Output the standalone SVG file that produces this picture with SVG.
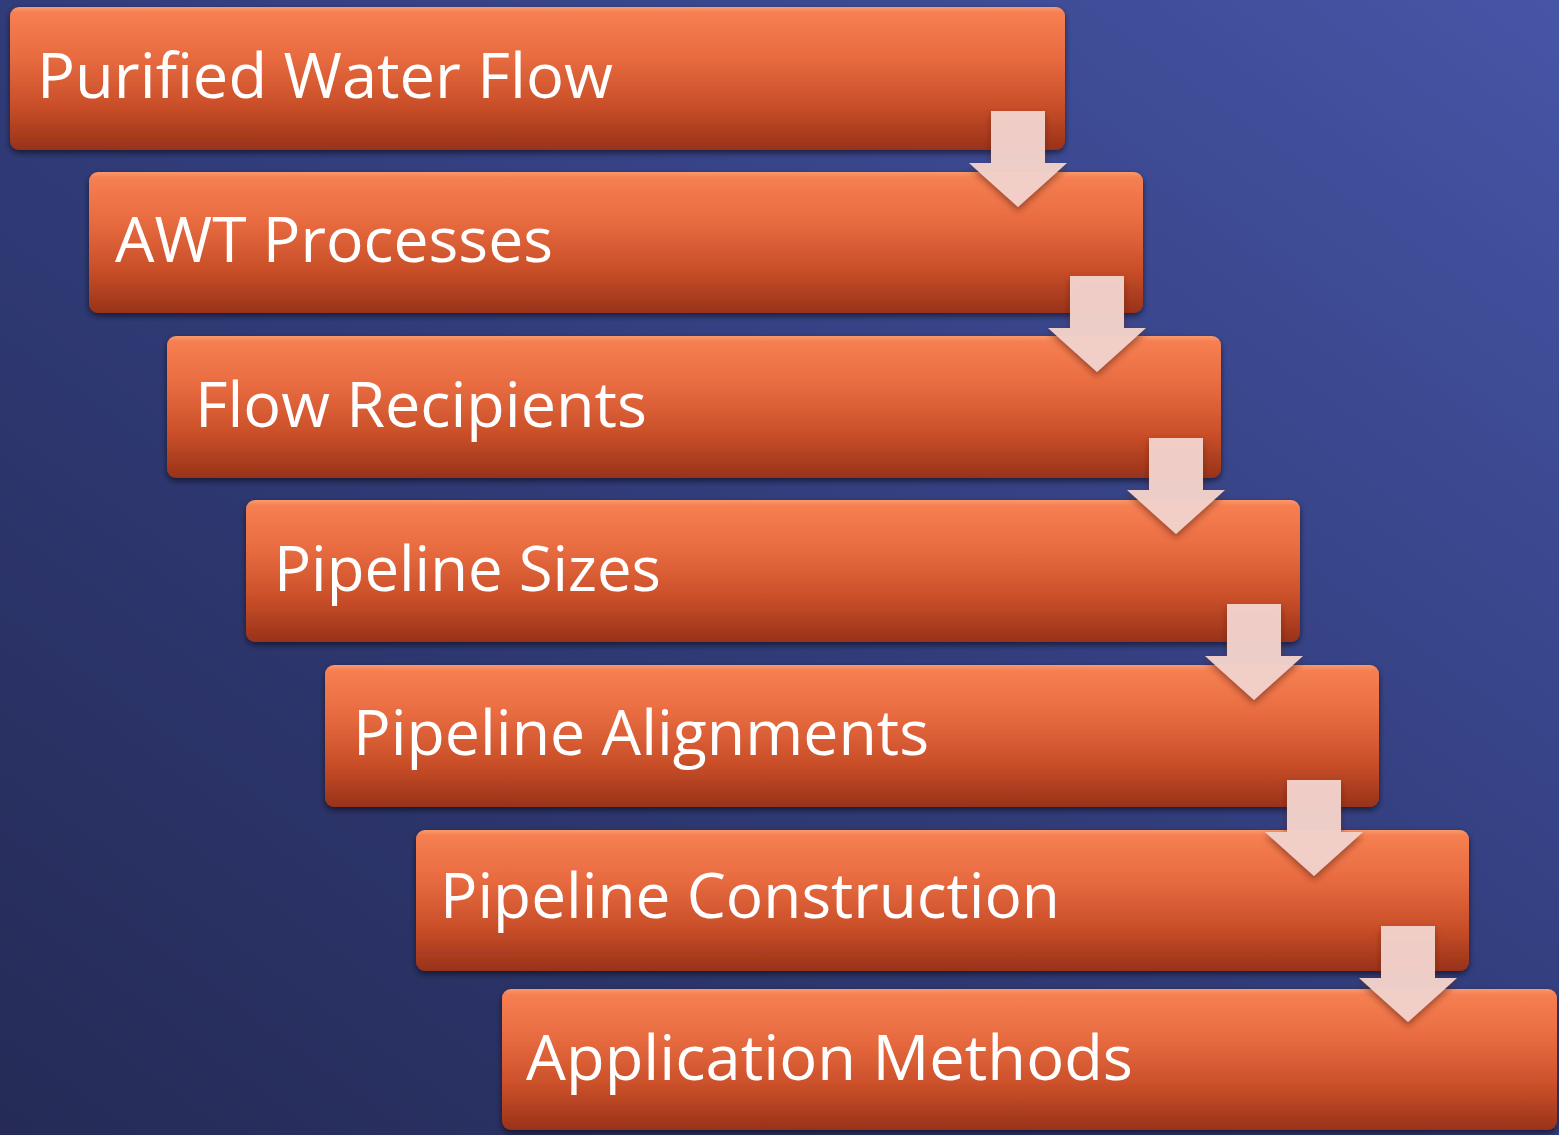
<svg xmlns="http://www.w3.org/2000/svg" width="1559" height="1135" viewBox="0 0 1559 1135">
<defs>
<linearGradient id="bg" x1="0" y1="1" x2="1" y2="0">
<stop offset="0" stop-color="#252b56"/>
<stop offset="0.5" stop-color="#313c7a"/>
<stop offset="1" stop-color="#4655a6"/>
</linearGradient>
<linearGradient id="box" x1="0" y1="0" x2="0" y2="1">
<stop offset="0" stop-color="#f99a6a"/>
<stop offset="0.04" stop-color="#f67f52"/>
<stop offset="0.35" stop-color="#e86b40"/>
<stop offset="0.7" stop-color="#c84e28"/>
<stop offset="1" stop-color="#98321a"/>
</linearGradient>
<filter id="sh" x="-5%" y="-10%" width="110%" height="130%">
<feDropShadow dx="0" dy="3" stdDeviation="3" flood-color="#000" flood-opacity="0.55"/>
</filter>
<filter id="ash" x="-20%" y="-20%" width="140%" height="140%">
<feDropShadow dx="0" dy="4" stdDeviation="3" flood-color="#5a1a08" flood-opacity="0.55"/>
</filter>
<polygon id="arrow" points="-27,0 27,0 27,52 49,52 0,96 -49,52 -27,52"/>
</defs>
<style>
.box{fill:url(#box);filter:url(#sh);}
.lbl{font-family:"Open Sans","Liberation Sans",sans-serif;font-size:62px;fill:#ffffff;}
.arr{fill:#f2d2cb;fill-opacity:0.96;filter:url(#ash);}
</style>
<rect x="0" y="0" width="1559" height="1135" fill="url(#bg)"/>
<g id="node1"><rect class="box" x="10" y="7" width="1055" height="143" rx="9"/><text class="lbl" x="37" y="98" textLength="576" lengthAdjust="spacingAndGlyphs">Purified Water Flow</text></g>
<g id="node2"><rect class="box" x="89" y="172" width="1054" height="141" rx="9"/><text class="lbl" x="115" y="262" textLength="438" lengthAdjust="spacingAndGlyphs">AWT Processes</text></g>
<g id="node3"><rect class="box" x="167" y="336" width="1054" height="142" rx="9"/><text class="lbl" x="195" y="427" textLength="452" lengthAdjust="spacingAndGlyphs">Flow Recipients</text></g>
<g id="node4"><rect class="box" x="246" y="500" width="1054" height="142" rx="9"/><text class="lbl" x="274" y="591" textLength="387" lengthAdjust="spacingAndGlyphs">Pipeline Sizes</text></g>
<g id="node5"><rect class="box" x="325" y="665" width="1054" height="142" rx="9"/><text class="lbl" x="353" y="755" textLength="576" lengthAdjust="spacingAndGlyphs">Pipeline Alignments</text></g>
<g id="node6"><rect class="box" x="416" y="830" width="1053" height="141" rx="9"/><text class="lbl" x="440" y="918" textLength="620" lengthAdjust="spacingAndGlyphs">Pipeline Construction</text></g>
<g id="node7"><rect class="box" x="502" y="989" width="1055" height="141" rx="9"/><text class="lbl" x="526" y="1080" textLength="607" lengthAdjust="spacingAndGlyphs">Application Methods</text></g>
<g id="connectors">
<use href="#arrow" class="arr" transform="translate(1018,111)"/>
<use href="#arrow" class="arr" transform="translate(1097,276)"/>
<use href="#arrow" class="arr" transform="translate(1176,438)"/>
<use href="#arrow" class="arr" transform="translate(1254,604)"/>
<use href="#arrow" class="arr" transform="translate(1314,780)"/>
<use href="#arrow" class="arr" transform="translate(1408,926)"/>
</g>
</svg>
